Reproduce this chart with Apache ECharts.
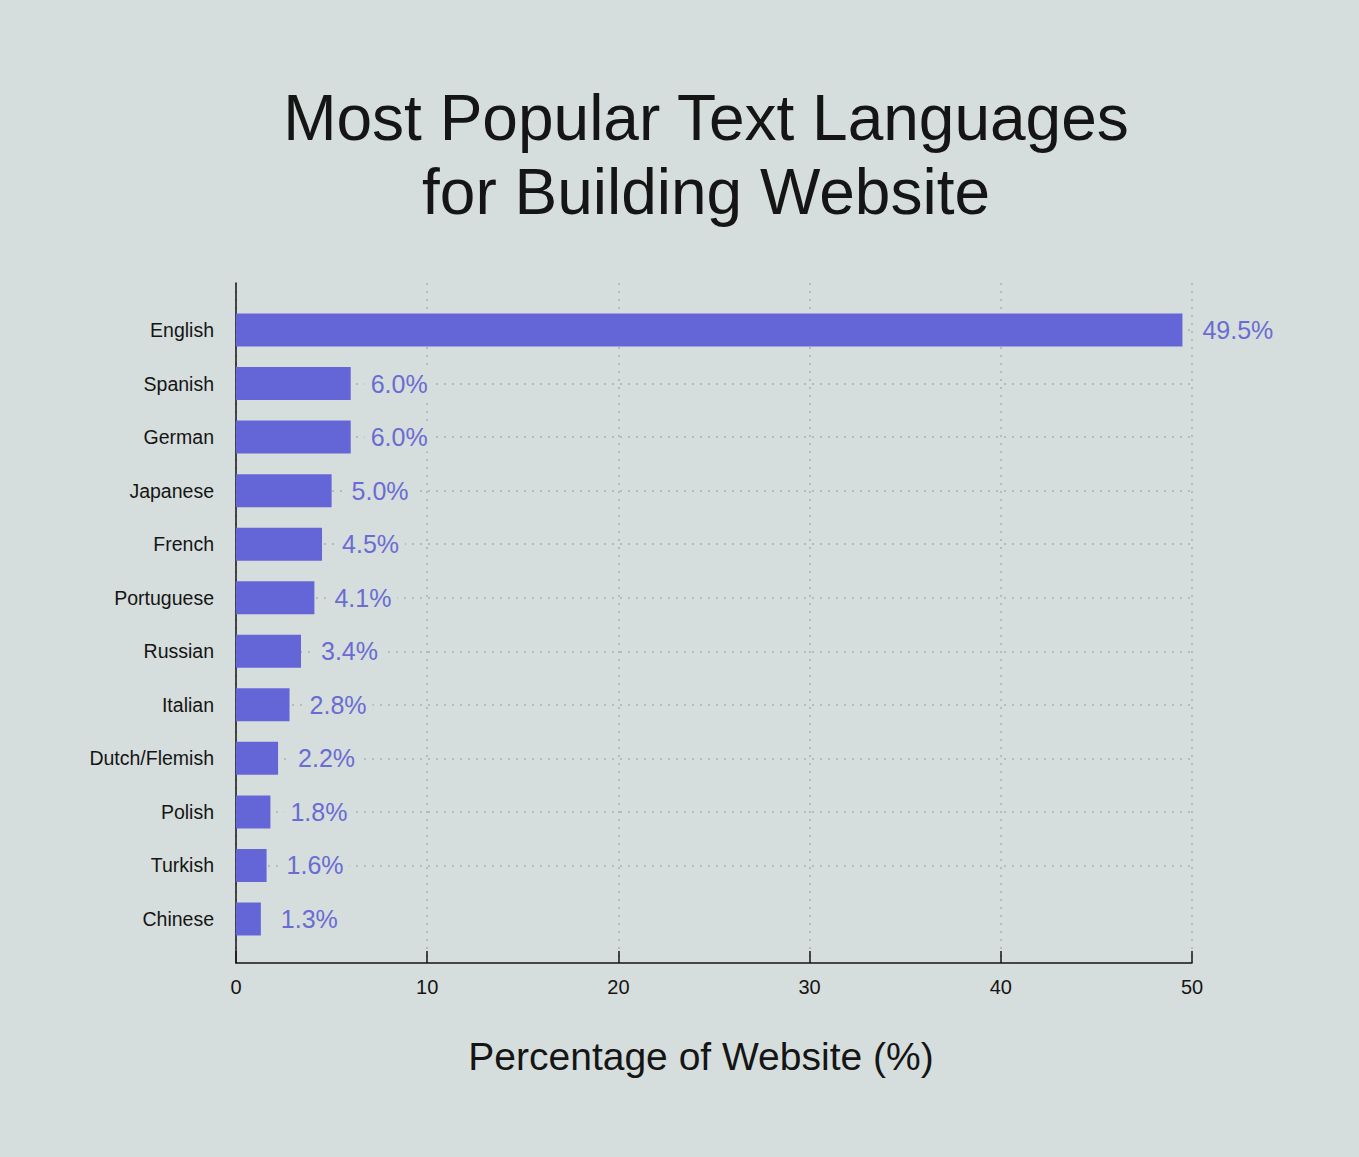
<!DOCTYPE html>
<html><head><meta charset="utf-8">
<script src="https://cdn.jsdelivr.net/npm/echarts@6/dist/echarts.min.js"></script>
<style>html,body{margin:0;padding:0;background:#d5dedc;}#main{width:1359px;height:1157px;}</style>
</head><body><div id="main"></div>
<script>
const categories = ['English','Spanish','German','Japanese','French','Portuguese','Russian','Italian','Dutch/Flemish','Polish','Turkish','Chinese'];
const shares = [49.5, 6.0, 6.0, 5.0, 4.5, 4.1, 3.4, 2.8, 2.2, 1.8, 1.6, 1.3];
const xTicks = [0, 10, 20, 30, 40, 50];
const titleLines = ['Most Popular Text Languages', 'for Building Website'];
const xAxisTitle = 'Percentage of Website (%)';

const BG = '#d5dedc';
const FONT = '"Liberation Sans", Arial, sans-serif';
const INK = '#151515';
const gridDot = {color: '#a9b1b0', width: 1.5, type: [2, 6]};

const chart = echarts.init(document.getElementById('main'), null, {renderer: 'svg'});
const option = {
  backgroundColor: BG,
  animation: false,
  textStyle: {fontFamily: FONT},
  graphic: titleLines.map((t, i) => ({
    type: 'text', x: 706, y: 118 + i * 74,
    style: {text: t, textAlign: 'center', textVerticalAlign: 'middle',
            font: '64px ' + FONT, fill: INK}
  })),
  grid: [
    {left: 236, right: 167, top: 330, height: 589, containLabel: false, outerBoundsMode: 'none'},
    {left: 236, right: 167, top: 283, height: 680, containLabel: false, outerBoundsMode: 'none'}
  ],
  xAxis: [
    {gridIndex: 0, type: 'value', min: xTicks[0], max: xTicks[xTicks.length - 1], show: false},
    {gridIndex: 1, type: 'value', min: xTicks[0], max: xTicks[xTicks.length - 1],
     interval: xTicks[1] - xTicks[0],
     axisLine: {show: true, lineStyle: {color: INK, width: 1.5}},
     axisTick: {show: true, inside: true, length: 12, lineStyle: {color: INK, width: 1.5}},
     axisLabel: {color: INK, fontSize: 20, margin: 14},
     splitLine: {show: true, lineStyle: gridDot},
     name: xAxisTitle, nameLocation: 'middle', nameGap: 74,
     nameTextStyle: {fontSize: 39, color: INK, padding: [0, 26, 0, 0]}}
  ],
  yAxis: [
    {gridIndex: 0, type: 'category', data: categories, inverse: true, boundaryGap: false,
     axisLine: {show: false}, axisTick: {show: false},
     axisLabel: {fontSize: 19.5, color: INK, margin: 22, interval: 0},
     splitLine: {show: true, interval: (i) => i < categories.length - 1, lineStyle: gridDot}},
    {gridIndex: 1, type: 'value', min: 0, max: 1,
     axisLine: {show: true, lineStyle: {color: INK, width: 1.5}},
     axisTick: {show: false}, axisLabel: {show: false}, splitLine: {show: false}}
  ],
  series: [{
    type: 'bar', xAxisIndex: 0, yAxisIndex: 0, data: shares, barWidth: 33,
    itemStyle: {color: '#6466d8'},
    label: {show: true, position: 'right', distance: 14,
            formatter: (p) => p.value.toFixed(1) + '%',
            color: '#6a6cd4', fontSize: 25, backgroundColor: BG, padding: [2, 6]}
  }]
};
chart.setOption(option);
</script></body></html>
